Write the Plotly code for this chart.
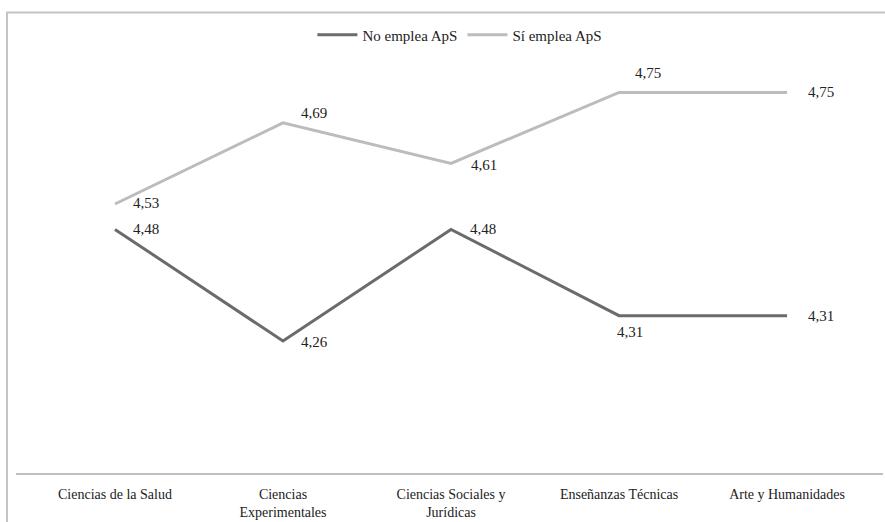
import plotly.graph_objects as go

# Areas of knowledge and mean scores for each group
categorias = ["Ciencias de la Salud", "Ciencias<br>Experimentales",
              "Ciencias Sociales y<br>Jurídicas", "Enseñanzas Técnicas",
              "Arte y Humanidades"]
no_emplea = [4.48, 4.26, 4.48, 4.31, 4.31]
si_emplea = [4.53, 4.69, 4.61, 4.75, 4.75]

# label offsets (pixels) relative to each point
off_no = [(31, 0), (32, -1), (32, 0), (11, -16), (34, 0)]
off_si = [(31, 1), (31, 10), (33, -2), (29, 19), (34, 0)]

FONT = "Liberation Serif"
FS = 15
fig = go.Figure()
fig.add_trace(go.Scatter(x=categorias, y=no_emplea, mode="lines",
                         name="No emplea ApS",
                         line=dict(color="#6b6b6b", width=3)))
fig.add_trace(go.Scatter(x=categorias, y=si_emplea, mode="lines",
                         name="Sí emplea ApS",
                         line=dict(color="#bcbcbc", width=3)))

anns = []
for serie, offs in ((no_emplea, off_no), (si_emplea, off_si)):
    for cat, v, (dx, dy) in zip(categorias, serie, offs):
        anns.append(dict(x=cat, y=v, xref="x", yref="y",
                         text=f"{v:.2f}".replace(".", ","),
                         showarrow=False, xshift=dx, yshift=dy,
                         xanchor="center", yanchor="middle",
                         font=dict(family=FONT, size=FS, color="#222222")))

fig.update_layout(
    width=885, height=522,
    margin=dict(l=16, r=2, t=67, b=49),
    paper_bgcolor="white", plot_bgcolor="white",
    annotations=anns,
    showlegend=True,
    legend=dict(orientation="h", x=0.512, xanchor="center",
                y=1.079, yanchor="middle",
                font=dict(family=FONT, size=FS, color="#222222"),
                itemwidth=40, tracegroupgap=0),
    xaxis=dict(range=[-0.589, 4.571], showgrid=False, zeroline=False,
               showline=True, linecolor="#c0c0c0", linewidth=2,
               ticks="", ticklabelstandoff=7,
               tickfont=dict(family=FONT, size=14, color="#222222")),
    yaxis=dict(range=[4.0, 4.8], visible=False, showgrid=False),
    shapes=[dict(type="rect", xref="paper", yref="paper",
                 x0=-0.0104, x1=1.05, y0=-0.2, y1=1.134,
                 line=dict(color="#c4c4c4", width=2),
                 fillcolor="rgba(0,0,0,0)", layer="above")],
)

fig.write_html("out.html")
